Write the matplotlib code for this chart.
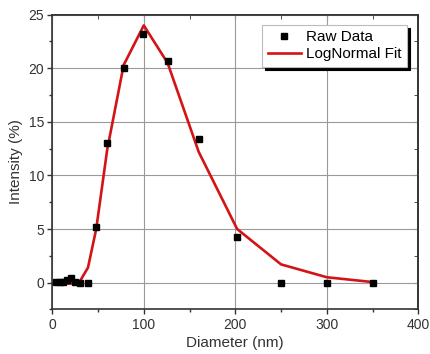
import matplotlib.pyplot as plt
from matplotlib.ticker import MultipleLocator

plt.rcParams["font.family"] = ["Liberation Sans", "DejaVu Sans"]

# raw DLS data
raw_d = [4, 8, 12, 16, 20, 25, 30, 39, 48, 60, 78, 99, 126, 160, 202, 250, 300, 350]
raw_i = [0.05, 0.05, 0.1, 0.2, 0.4, 0.05, 0.0, 0.0, 5.2, 13.0, 20.0, 23.2, 20.7, 13.4, 4.3, 0.0, 0.0, 0.0]

# log-normal fit curve
fit_d = [0, 10, 20, 30, 39, 48, 60, 78, 100, 126, 160, 202, 250, 300, 350]
fit_i = [-0.1, -0.1, -0.1, 0.1, 1.4, 5.0, 12.4, 20.3, 24.0, 20.5, 12.2, 5.0, 1.7, 0.5, 0.05]

fig = plt.figure(figsize=(4.3, 3.54), dpi=100)
ax = fig.add_axes([0.1216, 0.126, 0.8512, 0.8325])

ax.plot(raw_d, raw_i, "s", color="black", markersize=5, label="Raw Data", zorder=3)
ax.plot(fit_d, fit_i, "-", color="#d41414", lw=1.9, label="LogNormal Fit", zorder=2)

ax.set_xlim(0, 400)
ax.set_ylim(-2.5, 25)
ax.xaxis.set_major_locator(MultipleLocator(100))
ax.xaxis.set_minor_locator(MultipleLocator(50))
ax.yaxis.set_major_locator(MultipleLocator(5))
ax.yaxis.set_minor_locator(MultipleLocator(2.5))
ax.grid(True, which="major", color="#9a9a9a", lw=0.8)
ax.set_axisbelow(True)

ax.tick_params(which="both", direction="out", labelsize=10, colors="#333333", width=1, pad=2.5)
ax.tick_params(which="major", length=3.5)
ax.tick_params(which="minor", length=2.5)
# inward ticks on top and right
top = ax.secondary_xaxis("top")
top.xaxis.set_major_locator(MultipleLocator(100))
top.xaxis.set_minor_locator(MultipleLocator(50))
top.tick_params(which="both", direction="in", labeltop=False, length=3, color="#333333")
right = ax.secondary_yaxis("right")
right.yaxis.set_major_locator(MultipleLocator(5))
right.yaxis.set_minor_locator(MultipleLocator(2.5))
right.tick_params(which="both", direction="in", labelright=False, length=3, color="#333333")
for sec in (top, right):
    sec.spines[:].set_color("#333333")
    sec.spines[:].set_linewidth(1.2)

for sp in ax.spines.values():
    sp.set_color("#333333")
    sp.set_linewidth(1.2)

ax.set_xlabel("Diameter (nm)", fontsize=11, color="#333333", labelpad=3)
ax.set_ylabel("Intensity (%)", fontsize=11, color="#333333", labelpad=4)

leg = ax.legend(loc="upper right", bbox_to_anchor=(0.97, 0.965), borderaxespad=0,
                fontsize=11, frameon=True, fancybox=False, edgecolor="#bbbbbb",
                shadow={"color": "black", "alpha": 1},
                handlelength=2.2, handletextpad=0.35, borderpad=0.35, labelspacing=0.2)
leg.get_frame().set_linewidth(0.8)

fig.savefig("out.png", dpi=100)
